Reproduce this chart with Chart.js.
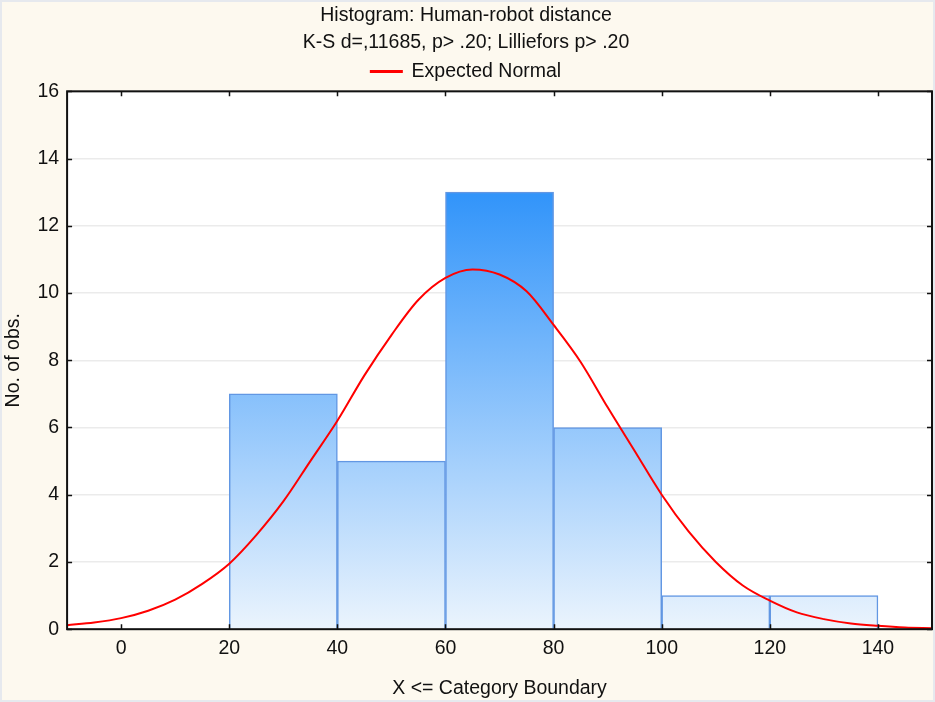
<!DOCTYPE html>
<html>
<head>
<meta charset="utf-8">
<script src="https://cdn.jsdelivr.net/npm/chart.js@4"></script>
<style>
  html, body { margin: 0; padding: 0; background: #fdf9ef; }
  #wrap { width: 935px; height: 702px; }
</style>
</head>
<body>
<div id="wrap"><canvas id="histChart"></canvas></div>
<script>
// histogram bins (centres) and counts
const binCenters = [30, 50, 70, 90, 110, 130];
const binCounts = [7, 5, 13, 6, 1, 1];

// expected normal curve
const curveX = [-10, -5, 0, 5, 10, 15, 20, 25, 30, 35, 40, 45, 50, 55, 60, 65, 70, 75, 80, 85, 90, 95, 100, 105, 110, 115, 120, 125, 130, 135, 140, 145, 150];
const curveY = [0.12, 0.2, 0.33, 0.55, 0.88, 1.35, 1.95, 2.8, 3.8, 5.0, 6.2, 7.55, 8.75, 9.8, 10.45, 10.7, 10.55, 10.05, 9.05, 7.95, 6.6, 5.3, 4.0, 2.9, 2.0, 1.3, 0.85, 0.5, 0.3, 0.17, 0.1, 0.05, 0.03];

const xTicks = [0, 20, 40, 60, 80, 100, 120, 140];
const yTicks = [0, 2, 4, 6, 8, 10, 12, 14, 16];

const FONT = "'Liberation Sans', Arial, sans-serif";
const FSIZE = 19.5;

// backgrounds and frame with inner tick marks
const framePlugin = {
    id: 'frame',
    beforeDraw(chart) {
        const c = chart.ctx, a = chart.chartArea;
        c.save();
        c.fillStyle = '#fdf9ef';
        c.fillRect(0, 0, chart.width, chart.height);
        c.strokeStyle = '#e6e9ee';
        c.lineWidth = 2;
        c.strokeRect(1, 1, chart.width - 2, chart.height - 2);
        c.fillStyle = '#ffffff';
        c.fillRect(a.left, a.top, a.right - a.left, a.bottom - a.top);
        c.restore();
    },
    afterDraw(chart) {
        const c = chart.ctx, a = chart.chartArea;
        const xs = chart.scales.x, ys = chart.scales.y;
        c.save();
        c.strokeStyle = '#111';
        c.lineWidth = 2;
        c.strokeRect(a.left, a.top, a.right - a.left, a.bottom - a.top);
        c.lineWidth = 1.5;
        c.beginPath();
        xTicks.forEach(v => {
            const px = Math.round(xs.getPixelForValue(v)) + 0.5;
            c.moveTo(px, a.bottom); c.lineTo(px, a.bottom - 5);
            c.moveTo(px, a.top); c.lineTo(px, a.top + 5);
        });
        yTicks.forEach(v => {
            const py = Math.round(ys.getPixelForValue(v)) + 0.5;
            c.moveTo(a.left, py); c.lineTo(a.left + 5, py);
            c.moveTo(a.right, py); c.lineTo(a.right - 5, py);
        });
        c.stroke();
        c.restore();
    }
};

function barGradient(context) {
    const chart = context.chart;
    if (!chart.chartArea) return '#8cc3fa';
    const ys = chart.scales.y;
    const g = chart.ctx.createLinearGradient(0, ys.getPixelForValue(13), 0, ys.getPixelForValue(0));
    g.addColorStop(0, '#3194fa');
    g.addColorStop(1, '#ebf4fd');
    return g;
}

const ctx = document.getElementById('histChart').getContext('2d');
const histChart = new Chart(ctx, {
    data: {
        datasets: [{
            type: 'line',
            label: 'Expected Normal',
            data: curveX.map((x, i) => ({ x: x, y: curveY[i] })),
            borderColor: '#ff0000',
            backgroundColor: '#ff0000',
            borderWidth: 2,
            pointRadius: 0,
            cubicInterpolationMode: 'monotone',
            order: 0
        }, {
            type: 'bar',
            label: 'bins',
            data: binCenters.map((x, i) => ({ x: x, y: binCounts[i] })),
            backgroundColor: barGradient,
            borderColor: '#6297e3',
            borderWidth: 1.5,
            borderSkipped: 'bottom',
            barPercentage: 1.0,
            categoryPercentage: 1.0,
            order: 1
        }]
    },
    options: {
        responsive: true,
        maintainAspectRatio: false,
        animation: false,
        layout: { padding: { left: 0, right: 3, top: 2, bottom: 2 } },
        plugins: {
            title: {
                display: true,
                text: ['Histogram: Human-robot distance', 'K-S d=,11685, p> .20; Lilliefors p> .20'],
                color: '#111',
                font: { family: FONT, size: FSIZE, weight: 'normal', lineHeight: 1.38 },
                padding: { top: 0, bottom: 0 }
            },
            legend: {
                display: true,
                labels: {
                    filter: item => item.text === 'Expected Normal',
                    color: '#111',
                    font: { family: FONT, size: FSIZE },
                    boxWidth: 31,
                    boxHeight: 1,
                    padding: 6
                }
            },
            tooltip: { enabled: false }
        },
        scales: {
            x: {
                type: 'linear',
                offset: false,
                min: -10,
                max: 150,
                afterBuildTicks: axis => { axis.ticks = xTicks.map(v => ({ value: v })); },
                grid: { display: false, drawTicks: false, offset: false },
                border: { display: false },
                ticks: { color: '#111', font: { family: FONT, size: FSIZE }, padding: 8 },
                title: { display: true, text: 'X <= Category Boundary', color: '#111', font: { family: FONT, size: FSIZE }, padding: { top: 8, bottom: 0 } }
            },
            y: {
                min: 0,
                max: 16,
                afterBuildTicks: axis => { axis.ticks = yTicks.map(v => ({ value: v })); },
                grid: { color: '#ebebeb', lineWidth: 1.5, drawTicks: false },
                border: { display: false },
                ticks: { color: '#111', font: { family: FONT, size: FSIZE }, padding: 8 },
                title: { display: true, text: 'No. of obs.', color: '#111', font: { family: FONT, size: FSIZE }, padding: { top: 2, bottom: 4 } }
            }
        }
    },
    plugins: [framePlugin]
});
</script>
</body>
</html>
